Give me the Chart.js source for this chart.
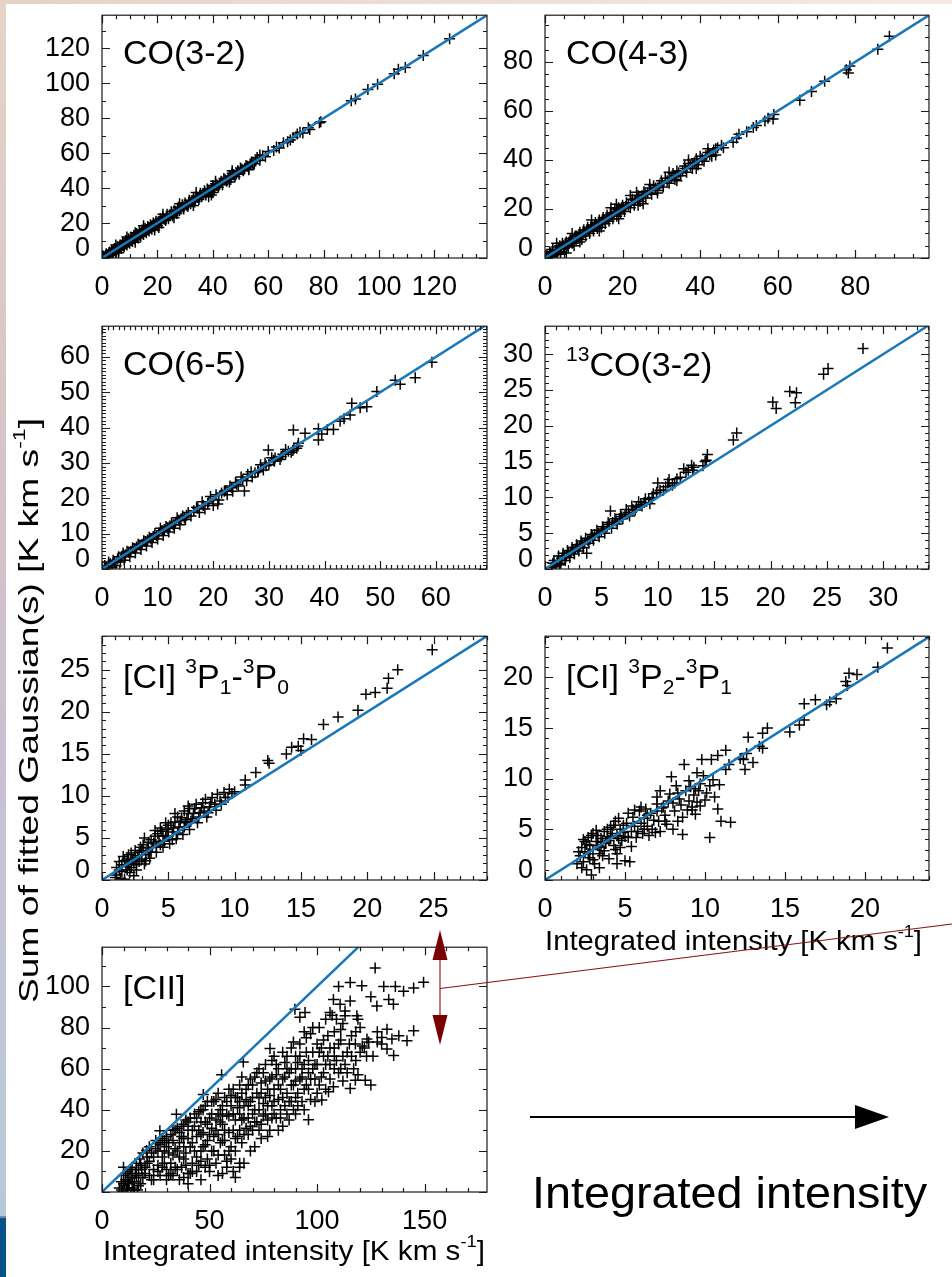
<!DOCTYPE html>
<html>
<head>
<meta charset="utf-8">
<script src="https://cdn.jsdelivr.net/npm/chart.js@4.4.1/dist/chart.umd.min.js"></script>
<style>
    body { margin: 0; background: #fff; }
    #page { position: relative; width: 952px; height: 1277px; overflow: hidden; background: #fff; }
    #page canvas { position: absolute; }
    #deco { left: 0; top: 0; z-index: 10; pointer-events: none; }
</style>
</head>
<body>
<div id="page"><canvas id="deco" width="952" height="1277"></canvas></div>
<script>
// scatter points, [integrated intensity, sum of fitted gaussians]
const co32 = [
    [0.5,1],[1,-0.5],[1.5,2.5],[2,0.5],[2.5,3],[3,1.5],[3.5,4.5],[4,2.5],[4.5,5.5],[5,3.5],[5.5,6.5],[6,4.5],
    [6.5,7.5],[7,5.5],[7.5,9],[8,6.5],[8.5,10],[9,7.5],[9.5,11],[10,8.5],[10.5,12],[11,9.5],[11.5,13],[12,10.5],
    [12.5,14],[13,11.5],[13.5,15],[14,12.5],[14.5,16],[15,13.5],[15.5,17],[16,14.5],[16.5,18],[17,15.5],[17.5,19],
    [18,16.5],[18.5,20],[19,17.5],[19.5,21],[20,18.5],[21,22.5],[21.5,20],[22,23.5],[23,21.5],[23.5,25],[24,22.5],
    [25,26.5],[25.5,24],[26,27],[27,25.5],[27.5,29],[28,27],[29,30.5],[29.5,28],[30,31.5],[31,29.5],[31.5,33],
    [32,31],[33,34.5],[33.5,32],[34,35.5],[35,33.5],[35.5,37],[36,35],[37,38.5],[37.5,36],[38,39.5],[38.5,35],
    [39,38],[40,41.5],[40.5,39],[41,42.5],[42,40.5],[43,44],[43.5,42],[44,45.5],[45,44],[46,47],[46.5,45],
    [47,48.5],[48,46.5],[49,50],[49.5,48],[50,51.5],[51,50],[52,53],[53,51.5],[54,55],[55,54],[56,57.5],[57,56],
    [58,58.5],[59,58],[60,61],[62,61.5],[63,63.5],[64,63],[65.5,66],[67,66.5],[68,67.5],[69,69],[70.5,71],
    [71.5,72],[72.5,71.5],[74.5,74.5],[75,73.5],[78.5,77.5],[79,78],[90,90],[91.5,91],[96,96.5],[99.5,99.5],
    [105.5,105.5],[107,108],[109.5,109],[116,116],[125.5,125.5],
    [0.8,0.2],[1.3,1.5],[1.8,2],[2.3,1.8],[2.8,3.5],[3.3,2.8],[3.8,3.5],[4.3,4.8],[4.8,4.2],[5.3,5],[5.8,6],
    [6.3,5.8],[6.8,6.5],[7.3,7.5],[7.8,7],[8.3,8.5],[8.8,8],[9.3,9.5],[9.8,9.2],[10.3,10.5],[10.8,10.2],
    [11.3,11.5],[11.8,11.2],[12.3,12.5],[12.8,12.8],[13.3,13.2],[13.8,14],[14.3,14.5],[14.8,14.8],[15.3,15.5],
    [15.8,16],[16.3,16.2],[16.8,17],[17.3,17.5],[17.8,17.8],[18.3,18.5],[18.8,19],[19.3,19.2],[19.8,20],
    [20.5,20.8],[21.3,21.5],[22.5,22.2],[23.3,23.8],[24.5,24.8],[25.3,25.2],[26.5,26.8],[27.3,27.2],[28.5,28.8],
    [29.3,29.2],[30.5,30.2],[31.3,31.8],[32.5,32.5],[33.3,33.2],[34.5,34.8],[35.3,35.2],[36.5,36.8],[37.3,37.2],
    [38.3,38.8],[39.5,39.2],[40.3,40.2],[41.5,41.8],[42.5,42.2],[43.3,43.5],[44.5,44.8],[45.5,45.2],[46.3,46.5],
    [47.5,47.8],[48.5,48.2],[49.3,49.5],[50.5,50.8],[51.5,51.2],[52.5,52.5],[53.5,53.8],[54.5,54.2],[55.5,55.5],
    [39.5,36],[20.5,17.5],[12,14.5],[57,59],
    [5,7.5],[9,12],[15,18.5],[22,25],[28,31],[34,37.5],[41,44],[47,50],[6,3],[12,9],[19,16],[26,23],[33,30],
    [40,37.5],[46,43.5],[53,50.5]
];
const co43 = [
    [0.5,1.5],[1,-0.5],[1.2,2.5],[1.8,0.5],[2,3.5],[2.5,1.5],[3,4.5],[3.2,2],[3.8,5],[4,2.5],[4.5,6],[5,4],
    [5.5,2],[5.5,6.5],[6,4.5],[6.5,8],[7,6],[7.5,5],[7.8,9],[8,7],[8.5,8],[9,10.5],[9.5,7.5],[10,11.5],[10.5,9],
    [11,12.5],[11.5,10],[12,13.5],[12.5,11],[13,14.5],[13.5,12],[14,15.5],[14.5,12.5],[15,16.5],[15.5,14],
    [16,17.5],[16.5,15],[17,18.5],[17.5,16],[18,20],[18.4,21.9],[18.5,17],[19,20.5],[19.5,18],[20,21.5],
    [20.5,19],[21,22.5],[22,20.5],[22.5,24],[23,21.5],[23.6,26.8],[24,25.5],[24.5,23],[25.3,22.1],[25.5,27],
    [26,24.5],[27,28.5],[27.5,26],[28,29.5],[29,27.5],[30,31.5],[30.5,29],[31,32.5],[32,30.5],[33,34.5],
    [33.5,32],[34,35.5],[35,33.5],[36,37.5],[36.5,35],[37,38.5],[38,36.5],[39,40.5],[39.5,38],[40,41.5],
    [41,39.5],[42,43],[43,41.5],[44,44.5],[46,45],[48.5,47.2],[49.4,48.9],[50,50.5],[52,51.5],[53.7,53.2],
    [54.5,54],[56.7,55.9],[57.5,57],[58.8,56.7],[59,58.5],[65.7,64.3],[68.7,67.9],[72.1,72.1],[77.7,76.8],
    [78.2,75.4],[78.6,78.3],[85.8,85.1],[88.8,90.4],
    [0.8,0.5],[1.5,2],[2.2,1],[2.8,3],[3.5,3.5],[4.2,4.5],[4.8,5],[5.2,5.5],[5.8,5],[6.2,6.5],[6.8,7],[7.2,7.5],
    [8.2,9],[8.8,9.5],[9.2,9],[9.8,10],[10.2,10.5],[10.8,11],[11.2,11.5],[11.8,12],[12.2,12.5],[12.8,13],
    [13.2,13.5],[13.8,14],[14.2,14.5],[14.8,15],[15.2,15.5],[15.8,16],[16.2,16.5],[16.8,17],[17.2,17.5],
    [17.8,18],[18.8,19],[19.2,19.5],[19.8,20],[20.2,20.5],[20.8,21],[21.5,21.5],[22.2,22.5],[23.2,23.5],
    [23.8,24],[24.2,24.5],[25,25.5],[25.8,26],[26.5,26.5],[27.2,27.5],[28.5,28.5],[29.5,29.8],[30.2,30.5],
    [31.5,31.5],[32.5,32.8],[33.5,33.5],[34.5,34.8],[35.5,35.5],[36.2,36.5],[37.5,37.5],[38.5,38.8],[39.2,39.5],
    [40.5,40.5],[41.5,41.8],[42.5,42],[43.5,44],[44.5,45],[45.5,46],
    [3,6],[7,10],[12,15.5],[17,20.5],[22,25.5],[27,30],[32,35],[37,40],[42,44.5],[4,1.5],[9,6.5],[14,11],
    [19,16],[24,21.5],[29,26.5],[34,31.5],[39,36.5],[44,42]
];
const co65 = [
    [0.5,1],[1,-0.5],[1.2,2],[1.8,0.5],[2,2.5],[2.5,1],[3,3.5],[3.3,2],[3.8,4.5],[4,2.5],[4.5,5],[5,3.5],
    [5.5,6],[6,4.5],[6.5,7],[7,5.5],[7.5,8],[8,6.5],[8.5,9],[9,7.5],[9.5,10],[10,8.5],[10.5,11.5],[11,9.5],
    [11.5,12],[12,10.5],[12.5,13],[13,11.5],[13.5,14.5],[14,12.5],[14.5,15],[15,14],[15.5,16],[16,15],
    [17,17.5],[17.5,16],[18,19],[18.5,17],[19,18.5],[19.5,20.5],[20,18],[20.5,21],[20.8,18.4],[21,19.5],
    [22,22],[22.5,21],[23,23.5],[23.5,22],[24,24.5],[24.5,23.5],[25,26],[25.6,22.1],[26,25],[26.2,26.8],
    [27,26],[28,27.5],[28.1,27.7],[28.5,29.5],[29,28],[29.3,30],[29.9,33.7],[30,29.5],[30.5,31.5],[31,30.5],
    [31.1,31.4],[32,31],[32.5,32.5],[33,32.5],[33.5,33.3],[34,33],[34.5,34],[35,34.2],[35.3,35.6],[34.4,39.3],
    [36.5,38.4],[38.9,39.7],[38.9,36.5],[39.5,38.2],[40.5,39.5],[41.6,39.5],[42.8,41.8],[43.5,42.5],
    [44.6,43.6],[44.9,46.9],[46.4,45.6],[47.6,45.9],[49.4,50.2],[52.7,53.4],[53.6,52.3],[56.3,54.1],[59.3,58.5],
    [0.8,0.5],[1.5,1.5],[2.2,2],[2.8,2.8],[3.5,3.5],[4.2,4],[4.8,4.8],[5.2,5],[5.8,5.8],[6.2,6.2],[6.8,6.8],
    [7.2,7],[7.8,7.8],[8.2,8.2],[8.8,8.5],[9.2,9.2],[9.8,9.5],[10.2,10.2],[10.8,10.8],[11.2,11.2],[11.8,11.5],
    [12.2,12.2],[12.8,12.5],[13.2,13.2],[13.8,13.8],[14.2,14.2],[14.8,14.5],[15.2,15.2],[16.5,16.5],[17.2,17.2],
    [18.2,18],[19.2,19],[21.5,21.5],[22.2,22.2],[23.3,23],[24.2,24],[25.3,25.2],[26.8,27.5],[27.5,27.2],
    [29.5,29.2],[30.8,30.8],[32.2,31.8],[33,33.8],[34.3,33.5],[35.2,34.8]
];
const co13 = [
    [0.6,0.2],[0.8,1.2],[1,0.5],[1.2,1.8],[1.4,0.8],[1.6,2.2],[1.8,1.2],[2,2.6],[2.2,1.6],[2.4,3],[2.6,2.1],
    [2.8,3.4],[3,2.5],[3.2,3.9],[3.4,3],[3.6,4.3],[3.7,2.2],[3.9,3.6],[4.1,4.8],[4.3,4],[4.6,5.4],[4.8,4.5],
    [5.1,5.9],[5.3,5],[5.6,6.5],[5.8,8.1],[5.9,5.7],[6.2,7],[6.4,6.3],[6.7,7.6],[6.9,7],[7.2,8.3],[7.5,7.4],
    [7.7,8.8],[8,8.2],[8.3,9.4],[8.6,8.8],[8.9,9.8],[9.3,9.1],[9.6,10.5],[9.9,10.7],[10,12],[10.5,11],
    [10.9,12],[11.3,11.7],[11.7,12.6],[12.3,14],[12.7,13.8],[13,14.5],[13.2,14.2],[14.2,15],[14.4,16],
    [16.7,18],[17,19],[20.2,23.3],[20.5,22.4],[21.7,24.8],[22.3,24.6],[22.2,23.2],[24.7,27.2],[25.1,28],
    [28.2,30.8],
    [0.7,0.8],[0.9,0.3],[1.1,1.2],[1.3,0.6],[1.5,1.5],[1.7,1.8],[1.9,1.8],[2.1,2.2],[2.3,2.4],[2.5,2.6],
    [2.7,2.8],[2.9,3],[3.1,3.2],[3.3,3.5],[3.5,3.6],[3.8,4],[4,4.2],[4.2,4.5],[4.4,4.8],[4.7,5],[5,5.2],
    [5.2,5.6],[5.5,5.9],[5.7,6.2],[6,6.5],[6.3,6.7],[6.6,7],[6.8,7.3],[7.1,7.6],[7.4,7.9],[7.8,8.3],[8.1,8.6],
    [8.5,9],[8.8,9.3],[9.2,9.7],[9.5,10],[10.2,11],[10.7,11.5],[11,12.5],[11.5,12],[12,12.8],[12.5,13.5],
    [13.1,13.8],[14,14.4],[14.3,15.2]
];
const ci10 = [
    [1,0.3],[1.1,1.5],[1.2,-0.3],[1.3,2.2],[1.5,1],[1.6,2.8],[1.7,0.1],[1.8,1.6],[2,3],[2,1.8],[2.1,0.9],
    [2.3,2.4],[2.4,0.5],[2.5,3.5],[2.6,1.8],[2.7,2.9],[2.8,3.3],[3,2.5],[3.1,4.2],[3.2,1.9],[3.2,5],[3.3,3],
    [3.5,4.5],[3.6,2.6],[3.8,3.9],[4,5.2],[4,5.9],[4.1,3.3],[4.3,4.6],[4.5,5.8],[4.6,3.9],[4.8,5.2],[4.8,6.8],
    [5,6.5],[5.1,4.3],[5.3,5.7],[5.5,6.9],[5.5,7.9],[5.6,4.9],[5.8,6.3],[6,7.4],[6.1,5.4],[6.3,6.8],[6.5,7.9],
    [6.5,8.8],[6.6,6],[6.8,7.3],[7,8.5],[7.2,6.8],[7.4,8],[7.6,9.2],[7.9,7.5],[8.1,8.7],[8.3,9.8],[8.6,8.3],
    [8.9,9.4],[9.2,10.4],[9.5,9.8],[9.8,10.3],[10.8,11.9],[10.8,11.3],[11.6,12.8],[12.5,14.2],[12.6,13.9],
    [13.9,15],[14.3,15.8],[14.8,15.9],[15,15.4],[15.2,16.8],[15.8,16.7],[16.7,18.5],[17.8,19.4],[19.3,20.2],
    [19.9,22.1],[20.6,22.3],[21.5,22.8],[21.6,24],[22.3,25],[24.9,27.4],
    [1.1,0.6],[1.3,1.2],[1.4,0.2],[1.5,1.8],[1.7,2.3],[1.9,1.2],[1.9,2.5],[2.2,1.5],[2.2,3.2],[2.4,2],
    [2.5,2.7],[2.6,1.2],[2.8,2.2],[2.9,3.9],[3,3.5],[3.3,2.3],[3.4,3.8],[3.5,3.3],[3.7,4.8],[3.7,3.3],[3.9,4.4],
    [4.1,4],[4.2,5.5],[4.4,4.2],[4.4,6.2],[4.6,5.3],[4.7,4.6],[4.9,6],[5,5.2],[5.2,6.8],[5.3,4.8],[5.4,6.2],
    [5.7,5.6],[5.7,7.5],[5.9,7],[6.2,6.3],[6.2,8.2],[6.4,7.2],[6.6,8.5],[6.7,7],[6.9,7.9],[7.1,9],[7.3,7.5],
    [7.5,8.6],[7.7,8.2],[7.8,9.6],[8,8],[8.2,9.2],[8.5,9],[8.7,10.2],[9,9],[9.3,9.8],[9.6,10.8],[10,10.5]
];
const ci21 = [
    [2,1.6],[2.2,2.4],[2.3,3.2],[2.4,1.8],[2.5,3.8],[2.5,2.8],[2.6,1],[2.7,4.2],[2.8,3.4],[2.8,2.2],[2.9,0.5],
    [3,4.6],[3,3],[3.1,1.6],[3.2,3.8],[3.3,4.4],[3.4,2.6],[3.5,4.1],[3.5,3.2],[3.6,2.4],[3.7,4.8],[3.8,3.6],
    [3.9,4.3],[4,3.9],[4.1,5.2],[4.2,4.6],[4.3,3.4],[4.4,5.8],[4.5,4.4],[4.5,2.6],[4.5,1.6],[4.6,6.1],[4.7,5],
    [4.8,3.9],[4.9,4.7],[5,1.9],[5.1,5.6],[5.2,4.2],[5.3,1.8],[5.4,3.3],[5.5,6.2],[5.6,5.3],[5.8,4.8],[5.9,6.8],
    [6,5.6],[6.1,4.6],[6.2,6.1],[6.3,7],[6.4,5.3],[6.5,4.4],[6.6,6.6],[6.8,5.9],[6.9,4.7],[7,8.2],[7,7.5],
    [7.1,5.8],[7.2,4.8],[7.3,7.1],[7.4,7.2],[7.5,6.4],[7.6,5.5],[7.8,8.5],[7.9,10.2],[8,7.6],[8,5],[8.1,6.8],
    [8.2,9.3],[8.3,5.8],[8.4,8],[8.5,7.4],[8.6,4.5],[8.7,11.4],[8.8,8.8],[8.9,6.9],[9,7.8],[9.1,9.2],[9.2,7.2],
    [9.3,8.4],[9.4,6.5],[9.5,10.6],[9.5,7.7],[9.6,8.8],[9.7,9.5],[9.8,11.9],[9.9,10.3],[10,7.9],[10.3,4.2],
    [10.3,9.3],[10.5,9.9],[10.6,8.2],[10.8,12.3],[10.8,7],[11,5.8],[11.3,12.8],[11.3,10.9],[11.5,11.4],
    [11.6,5.7],[12.2,12],[12.4,11.9],[12.5,10.9],[12.6,12.5],[12.7,14.1],[13,11.6],[13.4,13.2],[13.6,13],
    [13.6,14.5],[13.9,15],[15.3,14.6],[15.9,15.3],[16.2,15.8],[16.2,17.4],[16.9,17.8],[17.6,17.3],[17.8,17.6],
    [18.2,17.9],[18.8,19.6],[18.9,19.2],[19,20.4],[19.5,20.3],[20.8,21],[21.4,22.9],
    [2.1,2.8],[2.3,1.2],[2.4,4],[2.6,3.5],[2.7,2.6],[2.9,4.4],[3,2],[3.2,4.9],[3.3,3.4],[3.4,1.2],[3.6,3.7],
    [3.7,2.9],[3.9,5],[4,2.1],[4.1,4.2],[4.3,5.4],[4.4,3],[4.6,4.1],[4.7,3.2],[4.9,5.4],[5,4.3],[5.2,6.6],
    [5.4,4.8],[5.6,6.9],[5.7,4.2],[6,7.2],[6.2,5],[6.4,6.4],[6.7,5],[7,6.8],[7.2,8.8],[7.5,5.8],[7.7,7.8],
    [8.3,8.6],[8.6,6.2],[9,9.8],[9.2,6.9],[9.4,9],[9.7,7.3],[10.1,8.6],[10.4,11.9],[10.9,9.4]
];
const cii = [
    [8,2],[9,5],[9.5,0],[10,8],[10.5,3],[11,6],[11.5,1],[12,10],[12.5,4],[13,7],[13.5,-1],[14,12],[14.5,2],
    [15,5],[15.5,9],[16,14],[16.5,1],[17,7],[17.5,16],[18,4],[18.5,11],[19,19],[20,9],[20.7,20.2],[21,14],
    [22,22],[23,6],[24,17],[25,25],[26,20],[26.9,29.8],[27,8],[28,26],[29,14],[30,22],[31,8],[32,28],[33,18],
    [33,8],[34,30],[34.6,37.8],[35,11],[36,24],[36,6],[37,32],[38,16],[39,35],[40,26],[40,9],[41,9],[42,30],
    [43,20],[44,36],[44,10],[45,13],[46,28],[47,40],[47.1,47.4],[48,23],[48,12],[49,33],[50,10],[51,38],
    [52,27],[53,45],[53,14],[54,18],[55,34],[55.6,57],[56,42],[56,9],[57,25],[58,12],[59,37],[60,47],[60,16],
    [61,30],[62,20],[62,7],[63,41],[64,52],[64,12],[65,35],[65.7,63.3],[66,14],[67,45],[68,28],[69,55],
    [70,38],[71,22],[72,48],[73,60],[74,33],[75,43],[76,54],[77,27],[78,47],[78.1,69.8],[79,64],[80,38],
    [81,57],[82,30],[83,50],[84,68],[85,42],[86,60],[87,35],[88,52],[89,73],[89.7,88.9],[90,46],[91,63],
    [92,85],[93,56],[94,40],[94.4,87.3],[95,68],[96,50],[96,35.2],[97,77],[98,60],[99,44],[100,72],[101,80],
    [102,56],[102.2,44.8],[103,66],[104,50],[105,76],[105.3,48.8],[106,62],[106,87.3],[107,86],[107.6,51.2],
    [107.6,93.7],[108,70],[110,58],[110,100],[110.7,91.3],[111,79],[112,66],[113,85.7],[113,88],[115,72],
    [115.4,50.4],[115.4,92.9],[115.4,101.9],[117,60],[117.8,54.4],[117.8,72],[118.5,85.7],[119,84],
    [120.8,100.4],[121,71],[122.4,54.4],[123.2,74.4],[125,95],[127,109],[127.8,90.5],[128,73],[130.1,75.2],
    [131,100],[132.5,79.2],[132.5,69.6],[133.3,93.7],[134.8,74.4],[135.5,91.3],[135.6,66.4],[136.4,100],
    [140.2,97.7],[141.8,73.6],[144.9,78.4],[144.9,99.3],[149.5,102],
    [20,12],[21,17],[22,8],[23,19],[24,11],[25,21],[26,13],[27,23],[28,17],[29,25],[30,11],[30,27],[31,19],
    [32,14],[33,25],[34,21],[35,31],[36,17],[37,27],[38,22],[38,33],[39,13],[40,30],[41,36],[42,24],[42,14],
    [43,32],[44,27],[45,39],[46,20],[46,34],[47,29],[48,42],[49,25],[49,16],[50,36],[51,31],[52,44],[52,20],
    [53,35],[54,28],[55,40],[55,24],[56,33],[57,46],[57,18],[58,38],[59,29],[60,42],[60,22],[61,50],[62,35],
    [63,27],[63,46],[64,38],[65,56],[65,24],[66,42],[67,31],[67,50],[68,36],[69,44],[69,20],[70,52],[70,30],
    [71,40],[72,58],[72,34],[73,46],[74,26],[74,53],[75,37],[76,62],[76,46],[77,35],[78,55],[78,30],[79,42],
    [80,50],[80,66],[81,36],[82,45],[82,60],[83,40],[84,55],[84,32],[85,63],[86,48],[86,38],[87,58],[88,44],
    [88,70],[89,52],[90,60],[90,38],[91,48],[92,66],[92,55],[93,44],[94,62],[95,52],[95,75],[96,58],[97,45],
    [98,68],[99,55],[100,62],[100,48],[102,70],[103,58],[104,84],[105,66],[106,55],[108,78],[109,64],[110,72],
    [111,60],[112,82],[114,68],[116,76],[118,64],[120,80],[122,70],[124,73],[126,66],[114,58],[108,60],
    [112,54],[119,57],[125,52],
    [26,10],[30,6],[34,12],[38,7],[42,10],[46,6],[50,13],[54,8],[58,15],[61,10],[64,14],[46,15],[40,4],
    [9,1],[10,4],[11,9],[12,2],[13,11],[14,5],[15,1],[16,8],[17,3],[18,13],[19,7],[12,6],[14,9],[10,12],[17,11],
    [22,15],[24,6],[26,24],[28,12],[29,20],[31,24],[32,9],[33,30],[35,20],[36,29],[37,12],[38,26],[39,19],
    [40,34],[41,22],[43,38],[44,17],[45,30],[46,40],[47,22],[48,34],[49,44],[50,28],[51,20],[51,44],[53,30],
    [54,38],[54,48],[56,25],[56,37],[57,30],[58,44],[59,20],[59,50],[61,38],[62,26],[62,46],[64,30],[64,44],
    [65,48],[66,28],[66,36],[68,42],[68,52],[69,32],[70,46],[71,56],[71,34],[73,40],[73,30],[74,48],[75,58],
    [76,38],[77,50],[77,42],[79,36],[79,56],[80,44],[81,62],[82,52],[83,36],[84,46],[85,56],[86,66],[87,44],
    [88,60],[89,40],[90,54],[90,66],[91,42],[92,72],[93,60],[94,50],[94,78],[96,64],[97,55],[98,80],[99,62],
    [101,52],[101,68],[103,74],[104,62],[106,70],[108,66],[109,84],[111,74],[113,62],[116,66],[118,78],
    [120,68],[123,66],[128,78],[130,72],[138,76]
];
const identityLine = [0, 200];

// tick values for each panel
const co32Ticks = [0, 20, 40, 60, 80, 100, 120];
const co43Ticks = [0, 20, 40, 60, 80];
const co65Ticks = [0, 10, 20, 30, 40, 50, 60];
const co13Ticks = [0, 5, 10, 15, 20, 25, 30];
const ci10Ticks = [0, 5, 10, 15, 20, 25];
const ci21Ticks = [0, 5, 10, 15, 20];
const ciiXTicks = [0, 50, 100, 150];
const ciiYTicks = [0, 20, 40, 60, 80, 100];

const FONT = '"Liberation Sans", Arial, Helvetica, sans-serif';
const BLUE = '#1878b8';
const DARKRED = '#7a0000';

Chart.defaults.font.family = FONT;
Chart.defaults.color = '#000';

const panels = [
    { box: [102, 12, 487, 258], data: co32, xMax: 139, yMax: 139, xTicks: co32Ticks, yTicks: co32Ticks,
      xMinor: 5, yMinor: 10, title: [['CO(3-2)']], ty: 49 },
    { box: [545, 12, 929, 258], data: co43, xMax: 99, yMax: 99, xTicks: co43Ticks, yTicks: co43Ticks,
      xMinor: 5, yMinor: 5, title: [['CO(4-3)']], ty: 49 },
    { box: [102, 323, 487, 569], data: co65, xMax: 69.2, yMax: 68.7, xTicks: co65Ticks, yTicks: co65Ticks,
      xMinor: 1, yMinor: 1, title: [['CO(6-5)']], ty: 49 },
    { box: [545, 323, 929, 569], data: co13, xMax: 34.05, yMax: 33.9, xTicks: co13Ticks, yTicks: co13Ticks,
      xMinor: 1, yMinor: 1, title: [['13', 'sup'], ['CO(3-2)']], ty: 50 },
    { box: [102, 633, 487, 880], data: ci10, xMax: 29.03, yMax: 29, xTicks: ci10Ticks, yTicks: ci10Ticks,
      xMinor: 1, yMinor: 1, title: [['[CI] '], ['3', 'sup'], ['P'], ['1', 'sub'], ['-'], ['3', 'sup'], ['P'], ['0', 'sub']], ty: 52 },
    { box: [545, 633, 929, 880], data: ci21, xMax: 24, yMax: 24.07, xTicks: ci21Ticks, yTicks: ci21Ticks,
      xMinor: 1, yMinor: 1, title: [['[CI] '], ['3', 'sup'], ['P'], ['2', 'sub'], ['-'], ['3', 'sup'], ['P'], ['1', 'sub']], ty: 52 },
    { box: [102, 944, 487, 1192], data: cii, xMax: 179, yMax: 119.1, xTicks: ciiXTicks, yTicks: ciiYTicks,
      xMinor: 10, yMinor: 10, title: [['[CII]']], ty: 52 }
];

// text with super/subscripts, optionally stretched to a target width
function drawRich(ctx, segs, x, y, size, targetWidth) {
    const parts = segs.map(([t, k]) => {
        const s = k ? size * 0.62 : size;
        const dy = k === 'sup' ? -0.45 * size : (k === 'sub' ? 0.18 * size : 0);
        ctx.font = s + 'px ' + FONT;
        return { t: t, s: s, dy: dy, w: ctx.measureText(t).width };
    });
    const total = parts.reduce((a, p) => a + p.w, 0);
    const sx = targetWidth ? targetWidth / total : 1;
    ctx.save();
    ctx.translate(x, y);
    ctx.scale(sx, 1);
    ctx.fillStyle = '#000';
    ctx.textAlign = 'left';
    ctx.textBaseline = 'alphabetic';
    let cx = 0;
    parts.forEach(p => {
        ctx.font = p.s + 'px ' + FONT;
        ctx.fillText(p.t, cx, p.dy);
        cx += p.w;
    });
    ctx.restore();
}

// IDL style box: frame, inward ticks on all four sides, raised zero label, panel name
const idlFrame = {
    id: 'idlFrame',
    afterDatasetsDraw(chart, args, opts) {
        const ctx = chart.ctx;
        const a = chart.chartArea;
        const xs = chart.scales.x, ys = chart.scales.y;
        ctx.save();
        ctx.strokeStyle = '#1a1a1a';
        ctx.lineWidth = 1.2;
        ctx.strokeRect(a.left, a.top, a.right - a.left, a.bottom - a.top);
        ctx.beginPath();
        for (let i = 0; i * opts.xMinor <= xs.max + 1e-9; i++) {
            const v = i * opts.xMinor;
            const px = Math.round(xs.getPixelForValue(v)) + 0.5;
            const len = opts.xTicks.includes(v) ? 8 : 4;
            ctx.moveTo(px, a.bottom); ctx.lineTo(px, a.bottom - len);
            ctx.moveTo(px, a.top); ctx.lineTo(px, a.top + len);
        }
        for (let i = 0; i * opts.yMinor <= ys.max + 1e-9; i++) {
            const v = i * opts.yMinor;
            const py = Math.round(ys.getPixelForValue(v)) + 0.5;
            const len = opts.yTicks.includes(v) ? 8 : 4;
            ctx.moveTo(a.left, py); ctx.lineTo(a.left + len, py);
            ctx.moveTo(a.right, py); ctx.lineTo(a.right - len, py);
        }
        ctx.stroke();

        ctx.fillStyle = '#000';
        ctx.font = '27px ' + FONT;
        ctx.textAlign = 'right';
        ctx.textBaseline = 'middle';
        ctx.fillText('0', a.left - 12, ys.getPixelForValue(0) - 9.5);

        drawRich(ctx, opts.title, a.left + 21, a.top + opts.ty, 34);
        ctx.restore();
    }
};

const page = document.getElementById('page');

panels.forEach(p => {
    const [L, T, R, B] = p.box;
    const padL = 100, padT = 25, padR = 25, padB = 60;
    const cv = document.createElement('canvas');
    cv.width = (R - L) + padL + padR;
    cv.height = (B - T) + padT + padB;
    cv.style.left = (L - padL) + 'px';
    cv.style.top = (T - padT) + 'px';
    page.insertBefore(cv, page.firstChild);

    new Chart(cv.getContext('2d'), {
        type: 'scatter',
        data: {
            datasets: [
                {
                    type: 'line',
                    data: identityLine.map(v => ({ x: v, y: v })),
                    borderColor: BLUE,
                    borderWidth: 2.5,
                    pointRadius: 0,
                    clip: 0,
                    order: 0
                },
                {
                    data: p.data.map(([x, y]) => ({ x: x, y: y })),
                    pointStyle: 'cross',
                    pointRadius: 5.5,
                    borderColor: '#000',
                    borderWidth: 1.5,
                    clip: 0,
                    order: 1
                }
            ]
        },
        options: {
            responsive: false,
            animation: false,
            events: [],
            layout: { padding: { left: 0, top: padT, right: padR, bottom: 0 } },
            plugins: {
                legend: { display: false },
                tooltip: { enabled: false },
                idlFrame: { xMinor: p.xMinor, yMinor: p.yMinor, xTicks: p.xTicks, yTicks: p.yTicks, title: p.title, ty: p.ty }
            },
            scales: {
                x: {
                    type: 'linear', min: 0, max: p.xMax,
                    grid: { display: false, drawTicks: false },
                    border: { display: false },
                    afterBuildTicks: s => { s.ticks = p.xTicks.map(v => ({ value: v })); },
                    afterFit: s => { s.height = padB; },
                    ticks: { font: { size: 27 }, padding: 13, maxRotation: 0, autoSkip: false, color: '#000' }
                },
                y: {
                    type: 'linear', min: 0, max: p.yMax,
                    grid: { display: false, drawTicks: false },
                    border: { display: false },
                    afterBuildTicks: s => { s.ticks = p.yTicks.map(v => ({ value: v })); },
                    afterFit: s => { s.width = padL; },
                    ticks: { font: { size: 27 }, padding: 12, autoSkip: false, color: '#000',
                             callback: v => (v === 0 ? '' : String(v)) }
                }
            }
        },
        plugins: [idlFrame]
    });
});

// page decorations: slide border, axis titles, arrows
const dc = document.getElementById('deco').getContext('2d');

const grad = dc.createLinearGradient(0, 0, 0, 1216);
grad.addColorStop(0, '#e6d3c8');
grad.addColorStop(0.35, '#d8c4c6');
grad.addColorStop(0.6, '#cbbfd1');
grad.addColorStop(0.85, '#bfc8d8');
grad.addColorStop(1, '#b6c9d9');
dc.fillStyle = grad;
dc.fillRect(0, 0, 6, 1216);
dc.fillStyle = '#6a8db0';
dc.fillRect(0, 1216, 6, 2);
dc.fillStyle = '#0b5288';
dc.fillRect(0, 1218, 6, 59);
const topGrad = dc.createLinearGradient(0, 0, 952, 0);
topGrad.addColorStop(0, 'rgba(226,205,192,0.9)');
topGrad.addColorStop(1, 'rgba(240,225,215,0.7)');
dc.fillStyle = topGrad;
dc.fillRect(6, 0, 946, 4);

const unitLabel = [['Integrated intensity [K km s'], ['-1', 'sup'], [']']];
drawRich(dc, unitLabel, 545, 950, 28, 377);
drawRich(dc, unitLabel, 103, 1260, 28, 382);

dc.save();
dc.translate(38, 1003);
dc.rotate(-Math.PI / 2);
drawRich(dc, [['Sum of fitted Gaussian(s) [K km s'], ['-1', 'sup'], [']']], 0, 0, 28, 585);
dc.restore();

drawRich(dc, [['Integrated intensity']], 532, 1208, 45, 395);

// black arrow
dc.strokeStyle = '#000';
dc.lineWidth = 2;
dc.beginPath();
dc.moveTo(530, 1117); dc.lineTo(858, 1117);
dc.stroke();
dc.fillStyle = '#000';
dc.beginPath();
dc.moveTo(855, 1105); dc.lineTo(889, 1117); dc.lineTo(855, 1129); dc.closePath();
dc.fill();

// dark red double arrow and pointer line
dc.strokeStyle = '#c27878';
dc.lineWidth = 2;
dc.beginPath();
dc.moveTo(440, 958); dc.lineTo(440, 1017);
dc.stroke();
dc.fillStyle = DARKRED;
dc.beginPath();
dc.moveTo(440, 930); dc.lineTo(447.5, 960); dc.lineTo(432.5, 960); dc.closePath();
dc.fill();
dc.beginPath();
dc.moveTo(440, 1045); dc.lineTo(447.5, 1015); dc.lineTo(432.5, 1015); dc.closePath();
dc.fill();
dc.strokeStyle = '#8b1010';
dc.lineWidth = 1.2;
dc.beginPath();
dc.moveTo(440, 988.5); dc.lineTo(952, 924);
dc.stroke();
</script>
</body>
</html>
